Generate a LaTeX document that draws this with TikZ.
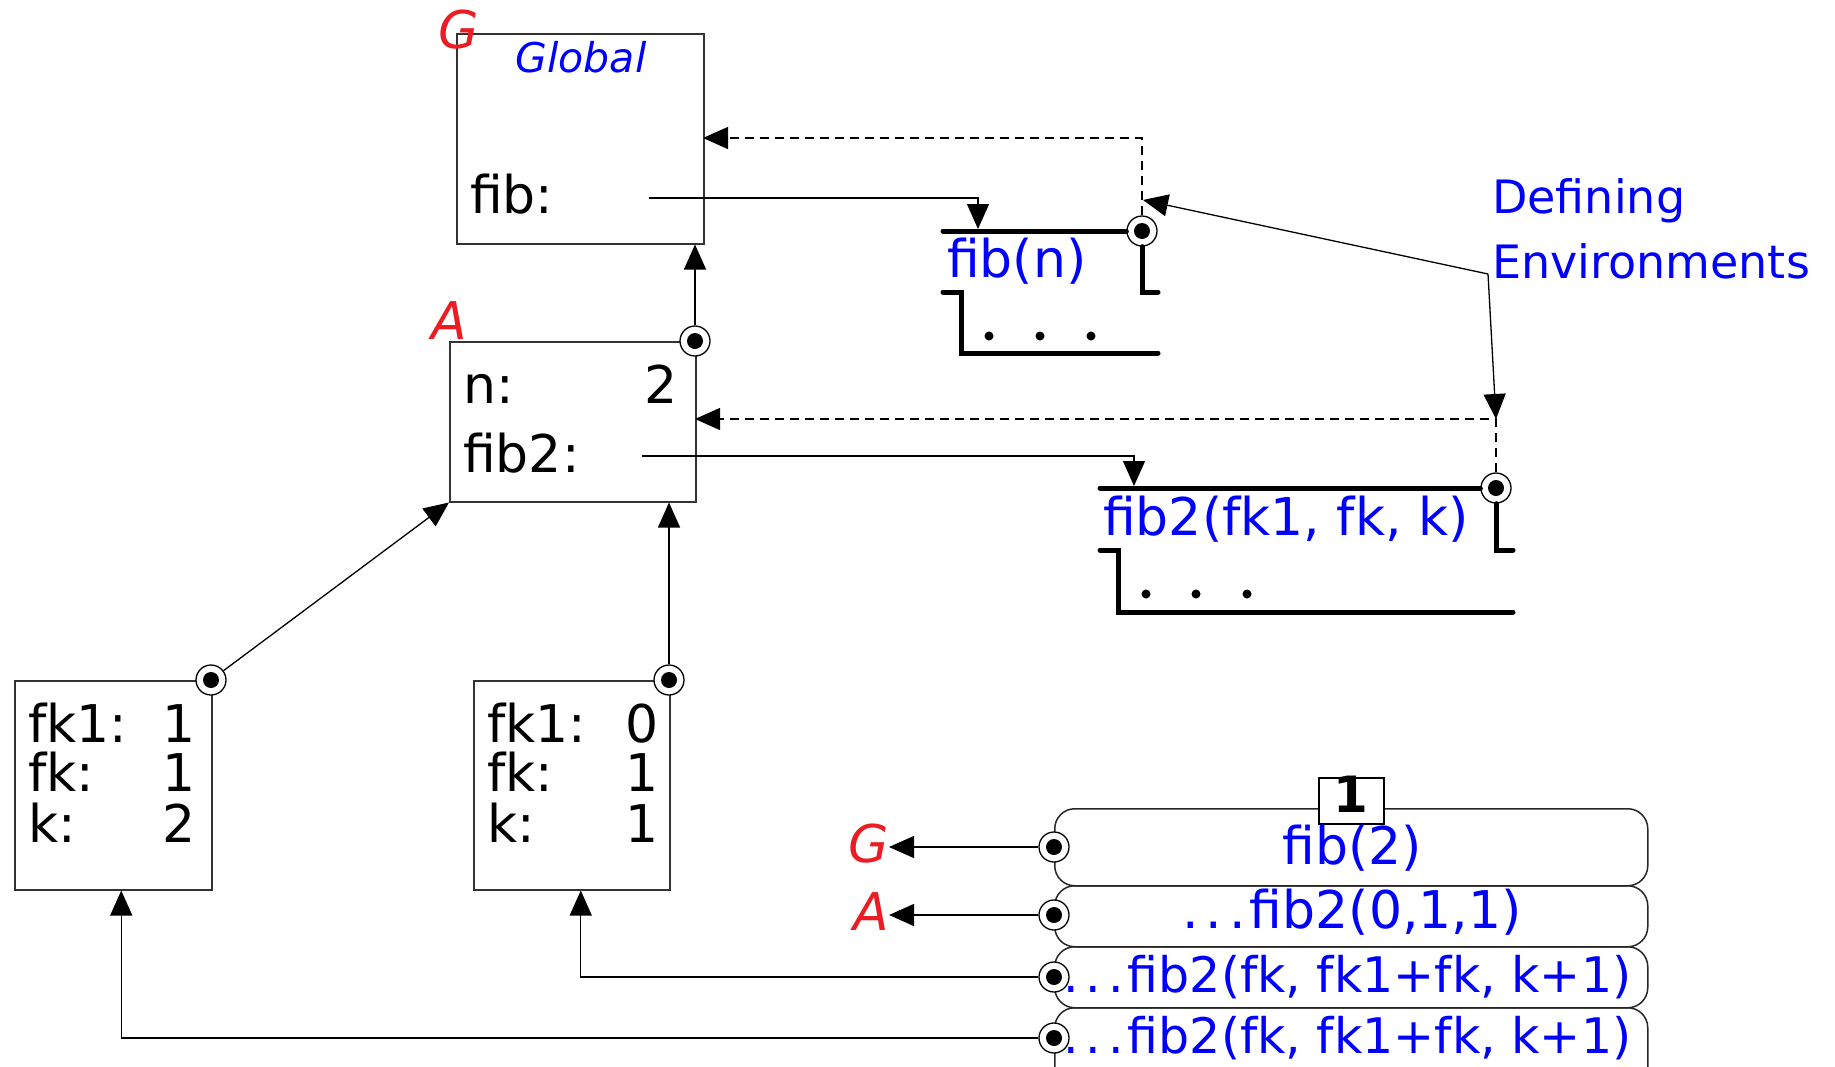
\documentclass[tikz,border=0pt]{standalone}
\usepackage{fontspec}
\setmainfont{DejaVu Sans}
\usetikzlibrary{arrows.meta}
\definecolor{cblue}{RGB}{0,0,255}
\definecolor{cred}{RGB}{236,28,36}
\newcommand{\sdots}{.\kern7pt.\kern7pt.\kern4pt}
\begin{document}
\begin{tikzpicture}[x=1pt,y=-1pt,
  frame/.style={draw=black!80, line width=1.5pt, inner sep=0pt, anchor=north west},
  stackbox/.style={draw=black!85, line width=1.5pt, inner sep=0pt, anchor=north west, rounded corners=20pt},
  ptr/.style={circle, draw=black, line width=1.3pt, fill=white, minimum size=30pt, inner sep=0pt,
    path picture={\fill[black] (path picture bounding box.center) circle (8pt);}},
  conn/.style={line width=1.3pt, -{Triangle[length=25pt,width=22pt]}},
  dconn/.style={conn, dash pattern=on 9pt off 6pt},
  heavy/.style={line width=5pt, line cap=round, line join=miter},
  txt/.style={inner sep=0pt, font=\fontsize{52}{62}\selectfont},
  btxt/.style={txt, text=cblue},
  stxt/.style={inner sep=0pt, text=cblue, font=\fontsize{49}{58}\selectfont},
  rtxt/.style={inner sep=0pt, text=cred, font=\fontsize{52}{62}\selectfont\itshape},
  dotf/.style={fill=black}
]
\useasboundingbox (0,0) rectangle (1835,1066);
\clip (0,0) rectangle (1835,1066);

% ---------- Global frame ----------
\node[frame, minimum width=247pt, minimum height=210pt] (gbox) at (456,33) {};
\node[rtxt, anchor=base west] (gG) at (438,48) {G};
\node[inner sep=0pt, text=cblue, font=\fontsize{41}{50}\selectfont\itshape, anchor=base] (glob) at (581,72) {Global};
\node[txt, anchor=base west] (fibl) at (470,213) {fib:};
\coordinate (fibs) at (649,198);
\coordinate (gin) at (703,138);

% ---------- fib(n) function ----------
\node[ptr] (fnc) at (1142,231) {};
\draw[heavy] (943,231) -- (fnc.west);
\draw[heavy] (fnc.south) -- (1142,292) -- (1158,292);
\draw[heavy] (943,292) -- (961,292) -- (961,353) -- (1158,353);
\fill[dotf] (989,336) circle (4.5pt) (1040,336) circle (4.5pt) (1091,336) circle (4.5pt);
\node[btxt, anchor=base west] (fnt) at (947,277) {fib(n)};
\coordinate (fntop) at (978,229);

% ---------- A frame ----------
\node[frame, minimum width=246pt, minimum height=160pt] (abox) at (449,341) {};
\node[rtxt, anchor=base west] (aA) at (431,339) {A};
\node[ptr] (ac) at (695,341) {};
\node[txt, anchor=base west] (nl) at (463,403) {n:};
\node[txt, anchor=base east] (nv) at (678,403) {2};
\node[txt, anchor=base west] (f2l) at (463,472) {fib2:};
\coordinate (f2s) at (642,456);
\coordinate (ain) at (695,419);

% ---------- fib2 function ----------
\node[ptr] (f2c) at (1496,488) {};
\draw[heavy] (1100,488) -- (f2c.west);
\draw[heavy] (f2c.south) -- (1496,550) -- (1513,550);
\draw[heavy] (1100,550) -- (1118,550) -- (1118,612) -- (1513,612);
\fill[dotf] (1146,594) circle (4.5pt) (1196,594) circle (4.5pt) (1247,594) circle (4.5pt);
\node[btxt, anchor=base west] (f2t) at (1103,535) {fib2(fk1, fk, k)};
\coordinate (f2top) at (1134,486);

% ---------- Defining Environments ----------
\node[inner sep=0pt, text=cblue, font=\fontsize{46}{56}\selectfont, anchor=base west] (def1) at (1492,213) {Defining};
\node[inner sep=0pt, text=cblue, font=\fontsize{46}{56}\selectfont, anchor=base west] (def2) at (1492,278) {Environments};
\coordinate (dp) at (1488,274);
\coordinate (fntip) at (1143,200);
\coordinate (f2tip) at (1496,419);

% ---------- fk frames ----------
\node[frame, minimum width=197pt, minimum height=209pt] (lbox) at (14,680) {};
\node[ptr] (lc) at (211,680) {};
\node[txt, anchor=base west] at (28,742) {fk1:};
\node[txt, anchor=base west] at (28,791) {fk:};
\node[txt, anchor=base west] at (28,842) {k:};
\node[txt, anchor=base east] at (196,742) {1};
\node[txt, anchor=base east] at (196,791) {1};
\node[txt, anchor=base east] at (196,842) {2};

\node[frame, minimum width=196pt, minimum height=209pt] (rbox) at (473,680) {};
\node[ptr] (rc) at (669,680) {};
\node[txt, anchor=base west] at (487,742) {fk1:};
\node[txt, anchor=base west] at (487,791) {fk:};
\node[txt, anchor=base west] at (487,842) {k:};
\node[txt, anchor=base east] at (659,742) {0};
\node[txt, anchor=base east] at (659,791) {1};
\node[txt, anchor=base east] at (659,842) {1};

% ---------- call stack ----------
\node[stackbox, minimum width=593pt, minimum height=77pt] (b1) at (1054,808) {};
\node[stackbox, minimum width=593pt, minimum height=61pt] (b2) at (1054,885) {};
\node[stackbox, minimum width=593pt, minimum height=61pt] (b3) at (1054,946) {};
\node[stackbox, minimum width=593pt, minimum height=95pt] (b4) at (1054,1007) {};
\node[draw=black, line width=1.5pt, fill=white, minimum width=65pt, minimum height=46pt, inner sep=0pt, anchor=north west] (onebox) at (1318,777) {};
\node[txt, font=\fontsize{50}{60}\selectfont\bfseries, anchor=base] (one) at (1351,812) {1};
\node[btxt, anchor=base] (t1) at (1352,864) {fib(2)};
\node[btxt, anchor=base] (t2) at (1352,928) {\sdots fib2(0,1,1)};
\node[stxt, anchor=base west] (t3) at (1063,992) {\sdots fib2(fk, fk1+fk, k+1)};
\node[stxt, anchor=base west] (t4) at (1063,1053) {\sdots fib2(fk, fk1+fk, k+1)};
\node[ptr] (s1) at (1054,847) {};
\node[ptr] (s2) at (1054,915) {};
\node[ptr] (s3) at (1054,977) {};
\node[ptr] (s4) at (1054,1038) {};
\node[rtxt, anchor=base east] (gG2) at (889,862) {G};
\node[rtxt, anchor=base east] (aA2) at (889,930) {A};

% ---------- connectors ----------
\draw[conn] (fibs) -| (fntop);
\draw[dconn] (fnc.north) |- (gin);
\draw[conn] (f2s) -| (f2top);
\draw[dconn] (f2c.north) |- (ain);
\draw[conn] (dp) -- (fntip);
\draw[conn] (dp) -- (f2tip);
\draw[conn] (ac.north) -- (ac.north |- gbox.south);
\draw[conn] (lc) -- (abox.south west);
\draw[conn] (rc.north) -- (rc.north |- abox.south);
\draw[conn] (s1.west) -- (gG2.east |- s1.west);
\draw[conn] (s2.west) -- (aA2.east |- s2.west);
\draw[conn] (s3.west) -| ([xshift=9pt]rbox.south);
\draw[conn] (s4.west) -| ([xshift=8pt]lbox.south);
\end{tikzpicture}
\end{document}
